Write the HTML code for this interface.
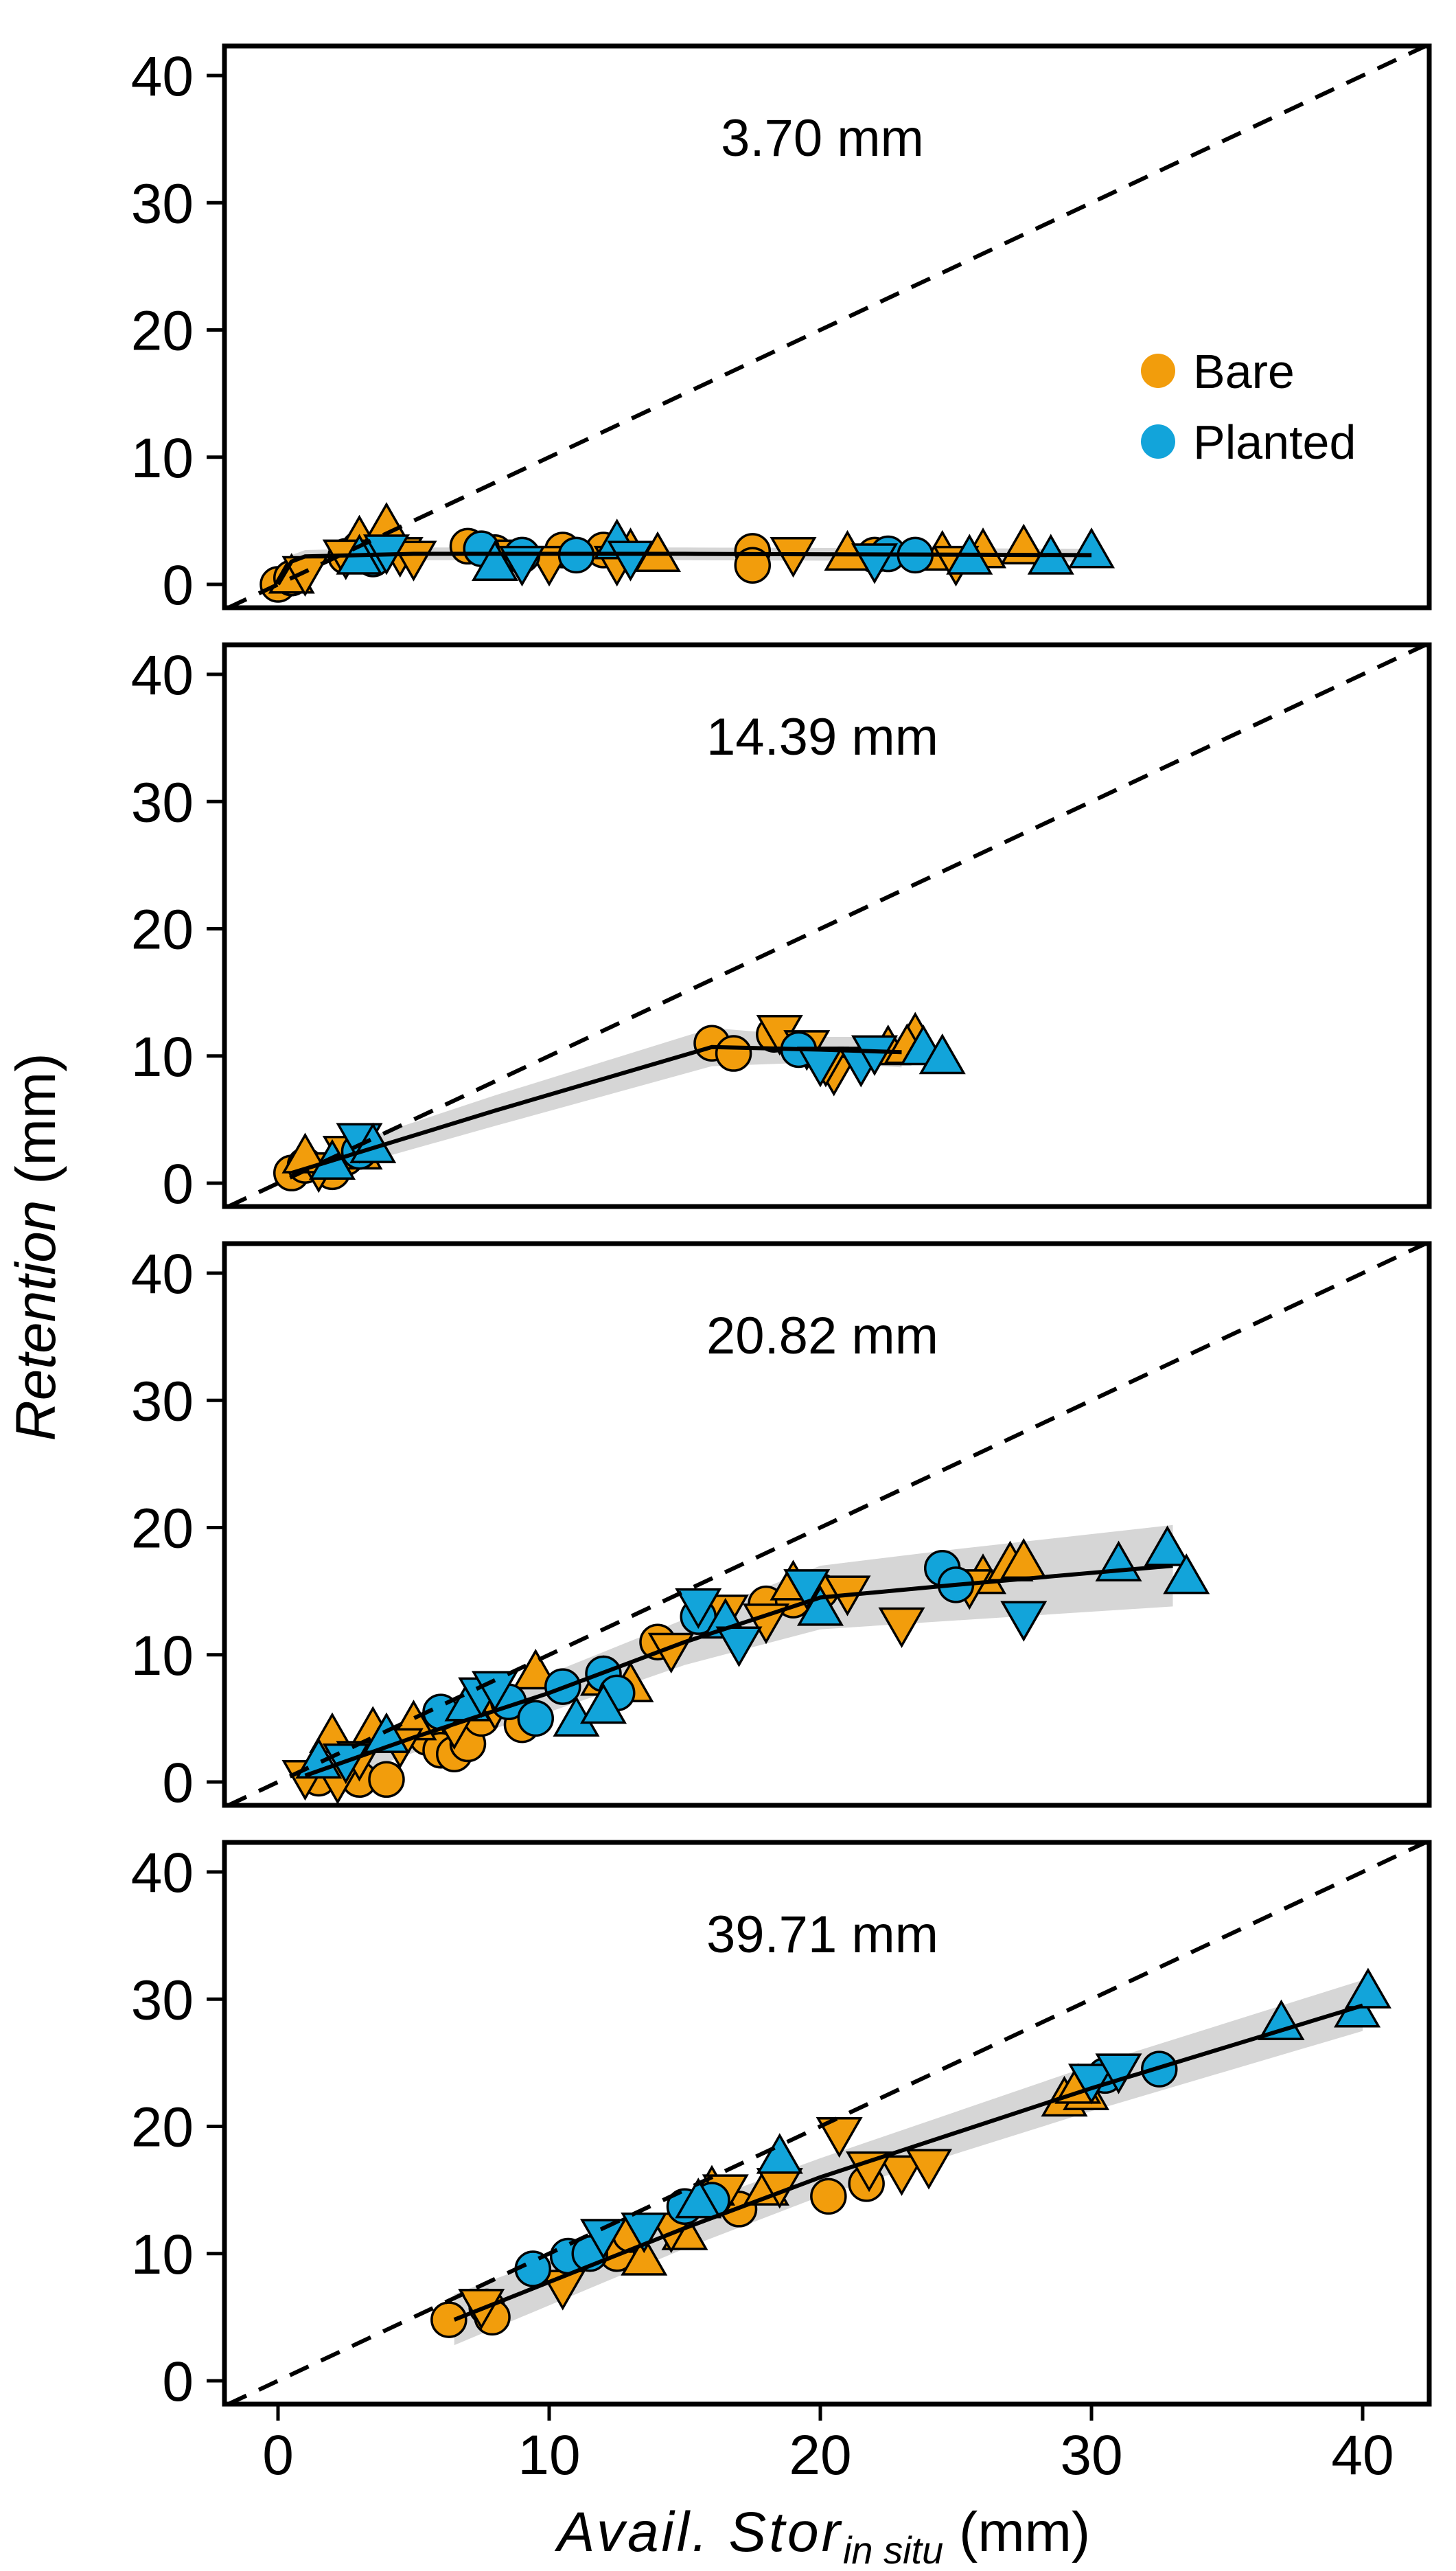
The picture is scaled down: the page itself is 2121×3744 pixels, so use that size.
<!DOCTYPE html>
<html><head><meta charset="utf-8">
<style>
html,body{margin:0;padding:0;background:#fff;}
svg{display:block;font-family:"Liberation Sans",sans-serif;}
</style></head>
<body>
<svg id="chart" width="2121" height="3744" viewBox="0 0 2121 3744" xmlns="http://www.w3.org/2000/svg">
<text transform="translate(80,1816) rotate(-90)" text-anchor="middle" font-size="82"><tspan font-style="italic">Retention</tspan> (mm)</text>
<text x="1200" y="3715" text-anchor="middle" font-size="82"><tspan font-style="italic" letter-spacing="4">Avail. Stor</tspan><tspan font-style="italic" font-size="56" dy="18">in situ</tspan><tspan dy="-18"> (mm)</tspan></text>
</svg>
<script>
const panelLabels = ["3.70 mm","14.39 mm","20.82 mm","39.71 mm"];
const xTicks = [0,10,20,30,40];
const yTicks = [0,10,20,30,40];
const groups = ["Bare","Planted"];
const groupColors = ["#F29D0C","#12A4DA"];
// points per panel: [x, y, group(0 bare/1 planted), shape(0 circle,1 up,2 down)]
const p1 = [[0,0,0,0],[0.5,0.5,0,0],[2.5,2.2,0,0],[3,2.8,0,0],[7,3,0,0],[8,2.5,0,0],[10.5,2.7,0,0],[12,2.7,0,0],[17.5,2.6,0,0],[17.5,1.5,0,0],[22,2.3,0,0],
[0.5,0.5,0,1],[3,3.5,0,1],[4,4.5,0,1],[13,2.5,0,1],[14,2.2,0,1],[21,2.3,0,1],[24.5,2.3,0,1],[26,2.5,0,1],[27.5,2.8,0,1],
[1,1,0,2],[2.5,2.3,0,2],[4.5,2.5,0,2],[5,2.2,0,2],[8.5,2.3,0,2],[10,1.8,0,2],[12.5,1.8,0,2],[19,2.5,0,2],[25,1.8,0,2],
[3.5,2,1,0],[7.5,2.8,1,0],[9,2.3,1,0],[11,2.3,1,0],[22.5,2.4,1,0],[23.5,2.3,1,0],
[3,2,1,1],[8,1.5,1,1],[12.5,3.2,1,1],[28.5,2.0,1,1],[30,2.5,1,1],[25.5,2.0,1,1],
[9,1.8,1,2],[13,2.2,1,2],[22,2.0,1,2],[4,2.7,1,2]];
const p2 = [[0.5,0.8,0,0],[1,1.4,0,0],[2,0.9,0,0],[2.5,2,0,0],[16,11,0,0],[16.8,10.2,0,0],[18.3,11.7,0,0],
[1.5,1.2,0,2],[2.5,2.5,0,2],[18.5,12,0,2],[19.5,10.8,0,2],[20.5,8.8,0,2],[20.2,9.5,0,2],
[1,2,0,1],[22.5,10.5,0,1],[23.5,11.5,0,1],[23.2,10.6,0,1],[3,2.3,0,1],
[3,2.5,1,0],[19.2,10.5,1,0],
[3,3.5,1,2],[20,9.5,1,2],[21.5,9.5,1,2],[22,10.4,1,2],
[2,1.5,1,1],[23.8,10.5,1,1],[24.5,9.8,1,1],[3.5,2.8,1,1]];
const p3 = [[1.5,0.3,0,0],[3,0.2,0,0],[4,0.2,0,0],[5.5,3.5,0,0],[6,2.5,0,0],[6.5,2.2,0,0],[7,3,0,0],[7.5,5,0,0],[9,4.5,0,0],[14,11,0,0],[16,13,0,0],[18,14,0,0],[19,14.3,0,0],[20,15,0,0],
[2,3.5,0,1],[3.5,4,0,1],[5,4.5,0,1],[9.5,8.5,0,1],[12,8,0,1],[13,7.5,0,1],[19,15.5,0,1],[26,16,0,1],[27,17,0,1],[27.5,17.2,0,1],
[1,0.5,0,2],[2.2,0.2,0,2],[3,2,0,2],[4.5,3,0,2],[6.5,4.5,0,2],[8,6,0,2],[14.5,10.5,0,2],[16.5,13.5,0,2],[18,12.8,0,2],[21,15,0,2],[23,12.5,0,2],[25.5,15.5,0,2],
[6,5.5,1,0],[8.5,6.3,1,0],[9.5,5,1,0],[10.5,7.5,1,0],[12,8.5,1,0],[12.5,7,1,0],[15.5,13,1,0],[24.5,16.8,1,0],[25,15.5,1,0],
[1.5,1.5,1,1],[4,3.5,1,1],[7,6,1,1],[11,4.8,1,1],[12,5.8,1,1],[16.5,12.5,1,1],[20,13.5,1,1],[31,17,1,1],[32.8,18.2,1,1],[33.5,16,1,1],
[2.5,1.8,1,2],[7.5,7,1,2],[8,7.5,1,2],[15.5,14,1,2],[17,11,1,2],[19.5,15.5,1,2],[27.5,13,1,2]];
const p4 = [[6.3,4.8,0,0],[7.7,5.8,0,0],[7.9,5,0,0],[12.5,10,0,0],[13,11.5,0,0],[17,13.5,0,0],[20.3,14.5,0,0],[21.7,15.5,0,0],
[13.5,9.5,0,1],[15,11.5,0,1],[16,15,0,1],[18,15,0,1],[29,22,0,1],[29.8,22.5,0,1],[29.5,23,0,1],
[7.5,6,0,2],[10.5,7.5,0,2],[14.5,12,0,2],[16.5,15,0,2],[18.5,15.5,0,2],[20.7,19.5,0,2],[23,16.5,0,2],[24,17,0,2],[21.8,16.8,0,2],
[9.4,8.8,1,0],[10.7,9.8,1,0],[11.5,10,1,0],[15,13.7,1,0],[16,14.2,1,0],[30.5,24,1,0],[32.5,24.5,1,0],
[18.5,17.5,1,1],[37,28,1,1],[39.8,29,1,1],[40.2,30.5,1,1],[15.5,14,1,1],
[12,11.5,1,2],[13.5,12,1,2],[30,23.7,1,2],[31,24.5,1,2]];
const points = [p1,p2,p3,p4];
// fit lines [x, y, ribbon half-width]
const f1 = [[0,0,0.4],[0.5,1.8,0.5],[1,2.2,0.5],[5,2.4,0.5],[15,2.4,0.5],[30,2.3,0.5]];
const f2 = [[0.5,0.8,0.8],[8,5.7,1.2],[16,10.7,1.5],[20,10.5,1.0],[23,10.3,1.2]];
const f3 = [[1,0.5,1.2],[5,3.5,1.2],[10,7,1.5],[15,11,1.8],[20,14.5,2.5],[25,15.5,2.8],[33,17,3.2]];
const f4 = [[6.5,4.8,2.0],[15,12,1.6],[20,16,1.5],[30,23,1.8],[40,29.5,2.0]];
const fits = [f1,f2,f3,f4];

const NS="http://www.w3.org/2000/svg";
const svg=document.getElementById('chart');
const L=327,R=2082,H=818,tops=[67,939,1811,2683];
const X0=405,XS=39.5;
function sx(v){return X0+v*XS;}
function mk(t,a,parent){const e=document.createElementNS(NS,t);for(const k in a)e.setAttribute(k,a[k]);(parent||svg).appendChild(e);return e;}
function shape(g,x,y,grp,s){
  const col=groupColors[grp];let e;
  if(s===0){e=mk('circle',{cx:x,cy:y,r:25,fill:col,stroke:'#000','stroke-width':3.5},g);}
  else if(s===1){e=mk('polygon',{points:`${x},${y-33} ${x-31},${y+21} ${x+31},${y+21}`,fill:col,stroke:'#000','stroke-width':3.5},g);}
  else{e=mk('polygon',{points:`${x},${y+33} ${x-31},${y-21} ${x+31},${y-21}`,fill:col,stroke:'#000','stroke-width':3.5},g);}
  return e;
}
tops.forEach((T,i)=>{
  const y0=T+784,YS=(784-43)/40;
  const sy=v=>y0-v*YS;
  const g=mk('g',{});
  
  
  const cp=mk('clipPath',{id:'cp'+i},g);mk('rect',{x:L,y:T,width:R-L,height:H},cp);
  const inner=mk('g',{'clip-path':'url(#cp'+i+')'},g);
  const f=fits[i];
  let rp=f.map(q=>sx(q[0])+','+sy(q[1]+q[2])).join(' ')+' '+f.slice().reverse().map(q=>sx(q[0])+','+sy(q[1]-q[2])).join(' ');
  const rib=mk('polygon',{points:rp,fill:'#d6d6d6'},inner);
  
  
  points[i].forEach(p=>{
    const e=shape(inner,sx(p[0]),sy(p[1]),p[2],p[3]);
    
    
  });
  const d=mk('line',{x1:sx(-3),y1:sy(-3),x2:sx(45),y2:sy(45),stroke:'#000','stroke-width':6,'stroke-dasharray':'30,20'},inner);
  
  
  const fl=mk('polyline',{points:f.map(q=>sx(q[0])+','+sy(q[1])).join(' '),fill:'none',stroke:'#000','stroke-width':6},inner);
  
  
  const fr=mk('rect',{x:L,y:T,width:R-L,height:H,fill:'none',stroke:'#000','stroke-width':7},g);
  
  
  yTicks.forEach(t=>{
    mk('line',{x1:L-26,x2:L,y1:sy(t),y2:sy(t),stroke:'#000','stroke-width':5},g);
    const tx=mk('text',{x:282,y:sy(t)+29,'text-anchor':'end','font-size':82},g);
    tx.textContent=t;
    
    
  });
  const an=mk('text',{x:1198,y:T+160,'text-anchor':'middle','font-size':76},g);
  an.textContent=panelLabels[i];
  
  
});
const lastBottom=tops[3]+H;
xTicks.forEach(t=>{
  mk('line',{x1:sx(t),x2:sx(t),y1:lastBottom,y2:lastBottom+24,stroke:'#000','stroke-width':5});
  const tx=mk('text',{x:sx(t),y:lastBottom+102,'text-anchor':'middle','font-size':82});
  tx.textContent=t;
  
  
});
groups.forEach((gname,k)=>{
  const lg=mk('g',{});
  
  
  mk('circle',{cx:1687,cy:540+k*103,r:25,fill:groupColors[k]},lg);
  const tx=mk('text',{x:1738,y:540+k*103+25,'font-size':70},lg);
  tx.textContent=gname;
});
</script>
</body></html>
